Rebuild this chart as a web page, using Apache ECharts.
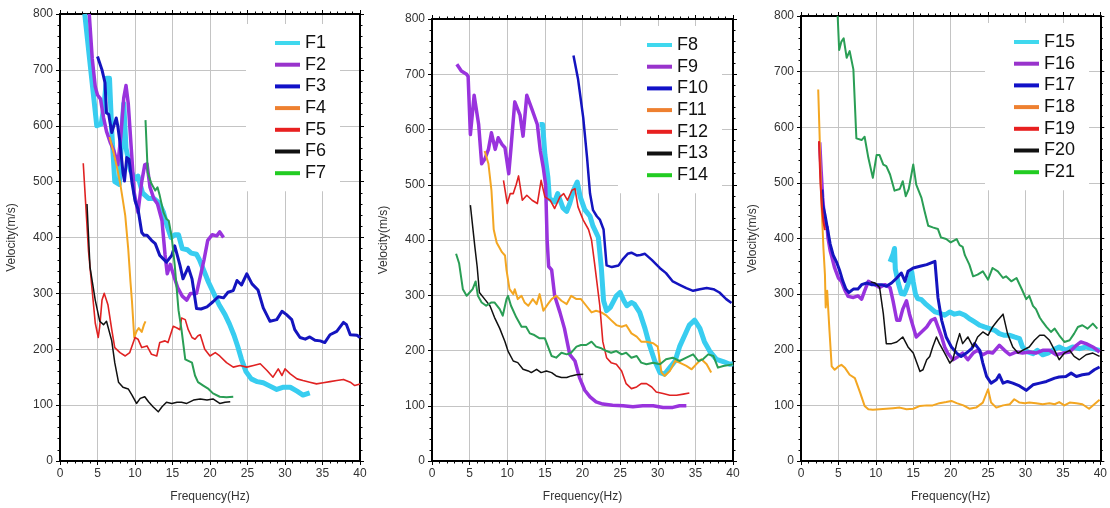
<!DOCTYPE html>
<html><head><meta charset="utf-8">
<script src="https://cdn.jsdelivr.net/npm/echarts@6/dist/echarts.min.js"></script>
<style>html,body{margin:0;padding:0;background:#fff}#c{width:1110px;height:508px}</style>
</head><body><div id="c"></div>
<script>
// ---- Tick / axis labels ----
const xTitle = 'Frequency(Hz)';
const yTitle = 'Velocity(m/s)';

// ---- Series values: [frequency (Hz), velocity (m/s)] ----
const F1 = [[3.3,800],[3.7,750],[4.1,700],[4.5,650],[4.9,600],[5.5,603],[5.9,640],[6.2,685],[6.6,685],[6.9,590],[7.3,500],[7.9,495],[8.3,600],[8.5,640],[8.8,560],[9.4,520],[10.0,505],[10.4,510],[11.0,480],[11.8,470],[12.5,470],[13.2,462],[13.8,445],[14.3,420],[14.8,400],[15.3,405],[15.8,405],[16.3,380],[17.0,378],[17.5,372],[18.2,370],[18.6,360],[19.2,340],[19.8,320],[20.5,300],[21.2,280],[22.0,262],[22.6,245],[23.2,225],[23.7,205],[24.2,182],[24.8,160],[25.5,147],[26.3,142],[27.1,140],[28.0,134],[28.9,128],[29.8,132],[30.7,132],[31.6,125],[32.4,118],[33.3,122]];
const F2 = [[3.9,800],[4.3,720],[4.7,670],[5.0,655],[5.4,648],[5.8,615],[6.2,590],[6.7,570],[7.2,555],[7.7,530],[8.1,580],[8.5,650],[8.8,672],[9.1,640],[9.5,560],[9.9,480],[10.4,445],[10.9,500],[11.3,530],[11.6,532],[12.0,490],[12.5,470],[13.0,460],[13.6,430],[14.0,370],[14.3,335],[14.7,352],[15.2,330],[15.7,310],[16.3,295],[16.9,288],[17.4,300],[18.2,300],[18.7,330],[19.2,360],[19.7,395],[20.3,405],[20.9,403],[21.3,410],[21.8,400]];
const F3 = [[5.0,724],[5.6,700],[6.0,677],[6.2,623],[6.5,620],[6.9,588],[7.1,590],[7.5,614],[7.7,600],[8.0,570],[8.4,516],[8.6,501],[8.9,543],[9.2,540],[9.6,498],[10.0,466],[10.4,451],[10.9,409],[11.2,404],[11.6,404],[12.2,395],[12.7,389],[13.3,368],[14.2,356],[14.9,368],[15.3,385],[16.0,350],[16.4,326],[17.1,347],[17.6,326],[18.2,273],[18.8,272],[19.6,276],[20.4,285],[21.1,294],[21.8,292],[22.4,302],[23.1,305],[23.6,323],[24.2,315],[24.9,335],[25.6,317],[26.4,306],[27.1,274],[28.0,250],[28.9,253],[29.6,268],[30.2,262],[30.9,253],[31.3,235],[32.0,221],[32.7,218],[33.3,222],[34.0,216],[34.7,215],[35.3,212],[36.0,226],[36.9,232],[37.8,248],[38.2,244],[38.7,226],[39.6,225],[40.0,221]];
const F4 = [[6.6,580],[7.1,555],[7.6,525],[8.0,499],[8.4,465],[8.7,439],[9.1,379],[9.4,320],[9.6,285],[9.9,221],[10.2,232],[10.5,238],[10.9,231],[11.2,244],[11.4,250]];
const F5 = [[3.1,533],[3.8,376],[4.2,318],[4.7,247],[5.1,221],[5.3,241],[5.6,288],[5.9,300],[6.1,303],[6.4,279],[6.9,235],[7.3,203],[8.0,194],[8.7,188],[9.3,194],[10.0,221],[10.4,218],[10.9,203],[11.6,206],[11.8,209],[12.2,191],[12.9,188],[13.3,212],[14.0,215],[14.4,212],[15.1,241],[15.6,238],[16.0,235],[16.2,256],[16.7,253],[17.1,235],[17.6,221],[18.0,218],[18.4,224],[18.7,226],[19.3,200],[20.0,188],[20.7,194],[21.3,188],[22.2,176],[23.1,168],[24.0,171],[24.9,168],[25.8,171],[26.7,174],[27.6,162],[28.4,150],[29.1,165],[29.6,153],[30.0,165],[30.7,156],[31.6,147],[32.4,144],[33.3,141],[34.2,138],[35.1,140],[36.0,142],[36.9,144],[37.8,146],[38.7,141],[39.3,135],[40.0,138]];
const F6 = [[3.6,460],[4.0,347],[4.7,288],[5.3,250],[5.8,244],[6.2,250],[6.9,215],[7.3,176],[7.8,141],[8.4,132],[9.1,129],[9.6,118],[10.2,103],[10.7,112],[11.3,115],[11.8,106],[12.4,97],[13.1,88],[13.6,97],[14.2,105],[14.9,103],[15.6,105],[16.2,105],[16.9,103],[17.8,109],[18.7,111],[19.6,109],[20.4,111],[21.3,103],[22.0,105],[22.7,106]];
const F7 = [[11.4,610],[11.7,516],[12.2,496],[12.7,484],[13.0,490],[13.3,475],[13.8,445],[14.2,433],[14.5,430],[14.9,400],[15.3,350],[15.8,270],[16.2,235],[16.7,182],[17.6,176],[18.0,153],[18.4,141],[19.1,135],[19.8,129],[20.4,121],[21.3,115],[22.2,114],[23.1,115]];

const F8 = [[14.3,609],[14.7,609],[15.0,555],[15.4,514],[15.6,475],[16.3,469],[16.7,484],[17.4,458],[17.9,452],[18.3,466],[18.8,490],[19.3,505],[19.7,478],[20.3,455],[21.0,443],[21.4,425],[22.1,405],[22.5,350],[22.8,290],[23.2,272],[23.7,278],[24.5,299],[25.0,305],[25.5,290],[25.9,281],[26.5,287],[26.9,284],[27.6,269],[28.3,240],[28.9,210],[29.6,181],[30.3,160],[30.9,157],[31.6,169],[32.3,181],[32.9,207],[33.6,228],[34.2,246],[34.9,255],[35.6,240],[36.2,216],[36.9,199],[37.8,184],[38.7,180],[39.6,175],[40.0,176]];
const F9 = [[3.3,718],[3.9,706],[4.6,700],[4.8,696],[5.1,591],[5.6,662],[6.2,609],[6.6,538],[7.0,546],[7.5,564],[7.9,594],[8.4,564],[8.8,585],[9.3,573],[9.7,567],[10.2,520],[10.5,567],[11.0,650],[11.7,626],[12.1,588],[12.6,662],[13.3,636],[14.0,609],[14.4,561],[14.8,530],[15.1,500],[15.3,400],[15.5,352],[15.9,346],[16.3,299],[17.0,269],[17.6,240],[18.3,193],[19.0,181],[19.6,151],[20.3,128],[21.0,116],[21.8,107],[22.7,103],[24.0,101],[25.4,100],[26.7,98],[28.0,100],[29.4,100],[30.7,97],[32.0,97],[32.9,100],[33.8,100]];
const F10 = [[18.8,734],[19.4,692],[20.1,621],[20.6,550],[21.0,484],[21.4,454],[21.9,443],[22.3,437],[22.8,419],[23.2,354],[23.9,351],[24.8,354],[25.4,366],[26.0,375],[26.5,377],[27.2,372],[27.7,373],[28.3,375],[29.2,364],[30.3,349],[31.1,340],[32.0,325],[32.9,319],[33.8,313],[34.7,308],[35.6,311],[36.5,313],[37.4,311],[38.2,305],[39.1,293],[39.8,286]];
const F11 = [[7.0,561],[7.5,538],[7.9,490],[8.2,419],[8.6,395],[9.3,378],[9.7,372],[9.9,346],[10.3,311],[10.8,302],[11.0,311],[11.4,293],[11.9,299],[12.3,287],[12.8,281],[13.4,293],[13.9,284],[14.3,302],[14.8,272],[15.4,284],[15.9,293],[16.5,299],[17.2,290],[17.9,284],[18.5,299],[19.2,293],[19.8,293],[20.5,281],[21.2,269],[21.8,272],[22.5,269],[23.2,263],[23.8,255],[24.5,246],[25.2,243],[25.8,246],[26.5,231],[27.2,225],[27.8,216],[28.5,216],[29.4,213],[30.0,207],[30.5,160],[30.9,154],[31.6,163],[32.3,181],[32.9,178],[33.8,172],[34.5,166],[35.1,175],[35.8,184],[36.5,175],[37.1,160]];
const F12 = [[9.5,508],[10.0,466],[10.4,484],[10.8,484],[11.2,501],[11.5,516],[12.0,472],[12.6,481],[13.3,472],[14.0,466],[14.5,508],[15.0,478],[15.7,472],[16.3,457],[17.0,478],[17.5,484],[18.0,472],[18.6,490],[19.0,493],[19.4,460],[20.1,436],[20.8,419],[21.2,400],[21.6,358],[22.3,281],[22.7,216],[23.2,187],[23.8,178],[24.5,175],[25.2,163],[25.8,140],[26.5,131],[27.2,134],[27.8,140],[28.5,140],[29.2,134],[29.8,125],[30.7,122],[31.6,119],[32.5,119],[33.4,121],[34.2,123]];
const F13 = [[5.1,463],[5.7,387],[6.0,352],[6.3,305],[7.0,293],[7.7,281],[8.3,260],[9.0,240],[9.7,216],[10.1,199],[10.8,181],[11.4,178],[12.1,166],[12.8,163],[13.2,160],[13.9,166],[14.5,160],[15.2,163],[15.9,160],[16.5,154],[17.2,151],[17.9,151],[18.5,154],[19.2,156],[20.1,157]];
const F14 = [[3.2,375],[3.6,358],[4.1,311],[4.6,299],[5.0,305],[5.4,311],[5.8,325],[6.1,299],[6.6,287],[7.2,281],[7.9,287],[8.3,287],[9.0,275],[9.4,263],[9.9,293],[10.1,299],[10.5,281],[11.2,260],[11.9,243],[12.5,243],[13.0,231],[13.6,228],[14.3,222],[15.0,222],[15.9,190],[16.5,187],[17.2,196],[17.9,193],[18.5,196],[19.2,207],[19.8,210],[20.5,210],[21.2,216],[21.8,207],[22.5,204],[23.2,199],[23.8,196],[24.5,199],[25.2,193],[25.8,196],[26.5,187],[27.2,190],[27.8,178],[28.5,175],[29.4,178],[30.3,175],[31.1,184],[32.0,187],[32.9,181],[33.8,187],[34.7,193],[35.4,181],[36.0,184],[36.7,193],[37.4,190],[38.0,169],[38.7,172],[39.6,174],[40.0,175]];

const F15 = [[11.9,358],[12.3,372],[12.5,382],[12.6,345],[13.0,320],[13.4,301],[13.8,300],[14.1,310],[14.5,325],[14.8,340],[15.0,322],[15.3,300],[15.6,292],[16.1,290],[16.6,283],[17.2,276],[17.9,268],[18.5,266],[19.2,262],[19.9,268],[20.5,264],[21.2,266],[21.9,262],[22.6,255],[23.2,250],[23.9,244],[24.5,241],[25.2,238],[25.9,235],[26.5,229],[27.2,226],[27.9,226],[28.5,223],[29.2,220],[29.6,205],[30.3,196],[31.0,193],[31.6,199],[32.3,191],[33.0,194],[33.6,199],[34.5,205],[35.4,199],[36.3,205],[37.2,202],[38.1,205],[39.0,202],[39.9,199]];
const F16 = [[2.5,573],[2.7,520],[2.9,473],[3.2,425],[3.5,420],[3.6,402],[3.9,378],[4.1,368],[4.5,347],[5.0,329],[5.4,323],[5.9,306],[6.3,296],[7.0,294],[7.6,297],[8.1,291],[8.5,306],[9.0,323],[9.4,320],[9.9,317],[10.5,312],[11.2,317],[11.9,312],[12.3,288],[12.8,253],[13.2,253],[13.6,273],[14.1,288],[14.5,264],[15.0,241],[15.4,223],[16.1,232],[16.8,241],[17.4,253],[17.9,256],[18.3,241],[18.8,223],[19.2,205],[19.6,194],[20.3,182],[21.0,188],[21.6,194],[22.3,182],[23.0,194],[23.6,199],[24.3,191],[25.0,196],[25.6,194],[26.5,208],[27.2,199],[27.9,191],[28.8,196],[29.6,194],[30.5,196],[31.4,194],[32.3,199],[33.2,199],[34.1,191],[35.0,194],[35.9,196],[36.8,208],[37.4,214],[38.1,211],[39.0,205],[39.9,196]];
const F17 = [[2.8,488],[2.9,461],[3.2,443],[3.5,420],[3.9,390],[4.3,370],[4.8,356],[5.2,341],[5.6,323],[6.0,309],[6.4,303],[7.0,309],[7.6,309],[8.1,317],[8.8,320],[9.4,317],[10.1,317],[10.8,317],[11.4,314],[12.1,320],[12.8,329],[13.4,338],[13.9,323],[14.3,341],[15.0,347],[15.9,350],[16.8,353],[17.9,359],[18.3,294],[18.8,253],[19.4,223],[20.1,205],[20.8,194],[21.4,188],[22.1,194],[22.8,202],[23.2,211],[23.9,199],[24.3,176],[24.8,152],[25.4,140],[26.1,146],[26.5,155],[27.0,140],[27.6,143],[28.3,140],[29.2,135],[30.1,127],[31.0,137],[31.9,140],[32.8,143],[33.9,149],[34.5,151],[35.4,152],[36.1,158],[36.8,152],[37.6,155],[38.5,157],[39.2,164],[39.9,169]];
const F18 = [[2.3,668],[2.5,579],[2.7,473],[2.9,414],[3.0,382],[3.2,335],[3.3,276],[3.5,306],[3.8,235],[4.1,170],[4.5,164],[5.0,170],[5.4,173],[5.9,167],[6.5,155],[7.2,149],[7.9,123],[8.5,99],[9.0,93],[9.6,92],[10.5,93],[11.4,94],[12.3,95],[13.2,96],[14.1,93],[15.0,94],[15.9,99],[16.8,100],[17.6,100],[18.5,104],[19.4,106],[20.1,108],[20.8,104],[21.7,100],[22.5,94],[23.4,96],[24.3,105],[25.0,129],[25.4,105],[26.1,96],[27.0,100],[27.9,102],[28.5,111],[29.2,105],[29.9,104],[30.5,105],[31.4,104],[32.3,102],[33.2,104],[33.9,102],[34.5,106],[35.2,100],[35.9,105],[36.8,104],[37.6,102],[38.5,94],[39.2,102],[39.9,110]];
const F19 = [[2.4,575],[2.6,500],[2.8,455],[3.0,430],[3.2,415]];
const F20 = [[9.3,322],[9.9,320],[10.5,312],[11.0,265],[11.4,211],[12.1,211],[12.8,214],[13.6,223],[14.3,205],[15.0,194],[15.9,161],[16.3,164],[16.8,182],[17.2,188],[17.6,205],[18.1,223],[18.5,211],[19.2,194],[19.9,176],[20.3,182],[20.8,211],[21.2,229],[21.6,211],[22.3,223],[23.0,205],[23.6,223],[24.3,232],[25.0,226],[25.6,241],[26.3,253],[27.0,264],[27.6,229],[28.3,205],[29.0,194],[29.6,199],[30.5,205],[31.2,217],[31.9,226],[32.5,226],[33.2,217],[33.9,199],[34.5,182],[35.2,194],[35.9,199],[36.5,188],[37.2,182],[38.1,191],[39.0,194],[39.9,188]];
const F21 = [[4.9,800],[5.1,739],[5.4,754],[5.7,760],[6.1,725],[6.5,737],[7.0,704],[7.4,580],[8.1,577],[8.5,583],[9.0,545],[9.6,509],[10.1,550],[10.5,550],[11.0,533],[11.4,530],[11.9,515],[12.5,486],[13.2,489],[13.6,503],[14.0,476],[14.4,489],[15.0,533],[15.4,497],[16.1,473],[16.5,450],[17.0,423],[17.6,420],[18.3,417],[18.7,402],[19.4,399],[20.0,393],[20.8,399],[21.2,388],[21.6,385],[21.9,370],[22.5,353],[23.0,332],[23.6,335],[24.3,341],[25.0,326],[25.6,347],[26.3,341],[27.0,329],[27.4,332],[28.1,323],[28.8,329],[29.6,306],[30.1,291],[30.5,297],[31.0,279],[31.4,273],[31.9,258],[32.3,250],[32.8,241],[33.4,232],[33.9,238],[34.5,226],[35.2,214],[35.9,217],[36.5,229],[37.0,241],[37.6,244],[38.3,238],[39.0,247],[39.6,238]];

// ---- Panels (series names and data) ----
const panelNames = [
  ['F1','F2','F3','F4','F5','F6','F7'],
  ['F8','F9','F10','F11','F12','F13','F14'],
  ['F15','F16','F17','F18','F19','F20','F21']
];
const panelData = [
  [F1,F2,F3,F4,F5,F6,F7],
  [F8,F9,F10,F11,F12,F13,F14],
  [F15,F16,F17,F18,F19,F20,F21]
];

// ---- Styles ----
const lineColors = ['#38cdf0','#9933dd','#1414bf','#f3a622','#e02222','#111111','#2a9e55'];
const legendColors = ['#3fd8ee','#9933cc','#1111c8','#ee8030','#e82020','#111111','#22cc22'];
const panelWidths = [
  [5,3.5,3,2,1.6,1.5,2],
  [5,3.5,2.5,2,1.6,1.5,2],
  [5,3.5,3,2,2,1.5,2]
];
const grids = [
  {left:60, top:14, width:300, height:449},
  {left:432, top:19, width:301, height:450},
  {left:801, top:16, width:300, height:450}
];
const legendPos = [{left:246, top:24},{left:618, top:26},{left:985, top:23}];
const FONT = '"Liberation Sans", Arial, Helvetica, sans-serif';

const xAxes = [], yAxes = [], series = [], legends = [];
grids.forEach((g, i) => {
  const tickBase = {
    axisLine:{show:true, onZero:false, lineStyle:{color:'#000', width:2}},
    axisTick:{show:true, length:4, lineStyle:{color:'#000', width:1}},
    minorTick:{show:true, splitNumber:5, length:2.5, lineStyle:{color:'#000', width:1}}
  };
  xAxes.push(Object.assign({
    type:'value', gridIndex:i, position:'bottom', min:0, max:40, interval:5,
    name:xTitle, nameLocation:'middle', nameGap:30,
    nameTextStyle:{fontFamily:FONT, fontSize:12, color:'#333'},
    axisLabel:{fontFamily:FONT, fontSize:12, color:'#333', margin:7},
    splitLine:{show:true, lineStyle:{color:'#c4c4c4', width:1}}
  }, tickBase));
  xAxes.push(Object.assign({
    type:'value', gridIndex:i, position:'top', min:0, max:40, interval:5,
    axisLabel:{show:false}, splitLine:{show:false}
  }, tickBase));
  yAxes.push(Object.assign({
    type:'value', gridIndex:i, position:'left', min:0, max:800, interval:100,
    name:yTitle, nameLocation:'middle', nameGap:42,
    nameTextStyle:{fontFamily:FONT, fontSize:12, color:'#333'},
    axisLabel:{fontFamily:FONT, fontSize:12, color:'#333', margin:7},
    splitLine:{show:true, lineStyle:{color:'#c4c4c4', width:1}}
  }, tickBase));
  yAxes.push(Object.assign({
    type:'value', gridIndex:i, position:'right', min:0, max:800, interval:100,
    axisLabel:{show:false}, splitLine:{show:false}
  }, tickBase));

  panelNames[i].forEach((n, k) => {
    series.push({
      name:n, type:'line', xAxisIndex:2*i, yAxisIndex:2*i,
      data:panelData[i][k], showSymbol:false, symbol:'none',
      lineStyle:{color:lineColors[k], width:panelWidths[i][k], join:'round'},
      itemStyle:{color:lineColors[k]}, z:2+k
    });
  });
  legends.push({
    left:legendPos[i].left, top:legendPos[i].top, orient:'vertical',
    backgroundColor:'#fff', padding:[9,14,8,29], itemGap:1.7,
    icon:'rect', itemWidth:25, itemHeight:4,
    textStyle:{fontFamily:FONT, fontSize:18, color:'#111', lineHeight:20},
    data: panelNames[i].map((n,k)=>({name:n, itemStyle:{color:legendColors[k]}})),
    selectedMode:false, z:1
  });
});

const chart = echarts.init(document.getElementById('c'), null, {renderer:'canvas'});
chart.setOption({
  animation:false,
  backgroundColor:'#fff',
  grid:grids,
  xAxis:xAxes,
  yAxis:yAxes,
  legend:legends,
  series:series
});
</script>
</body></html>
